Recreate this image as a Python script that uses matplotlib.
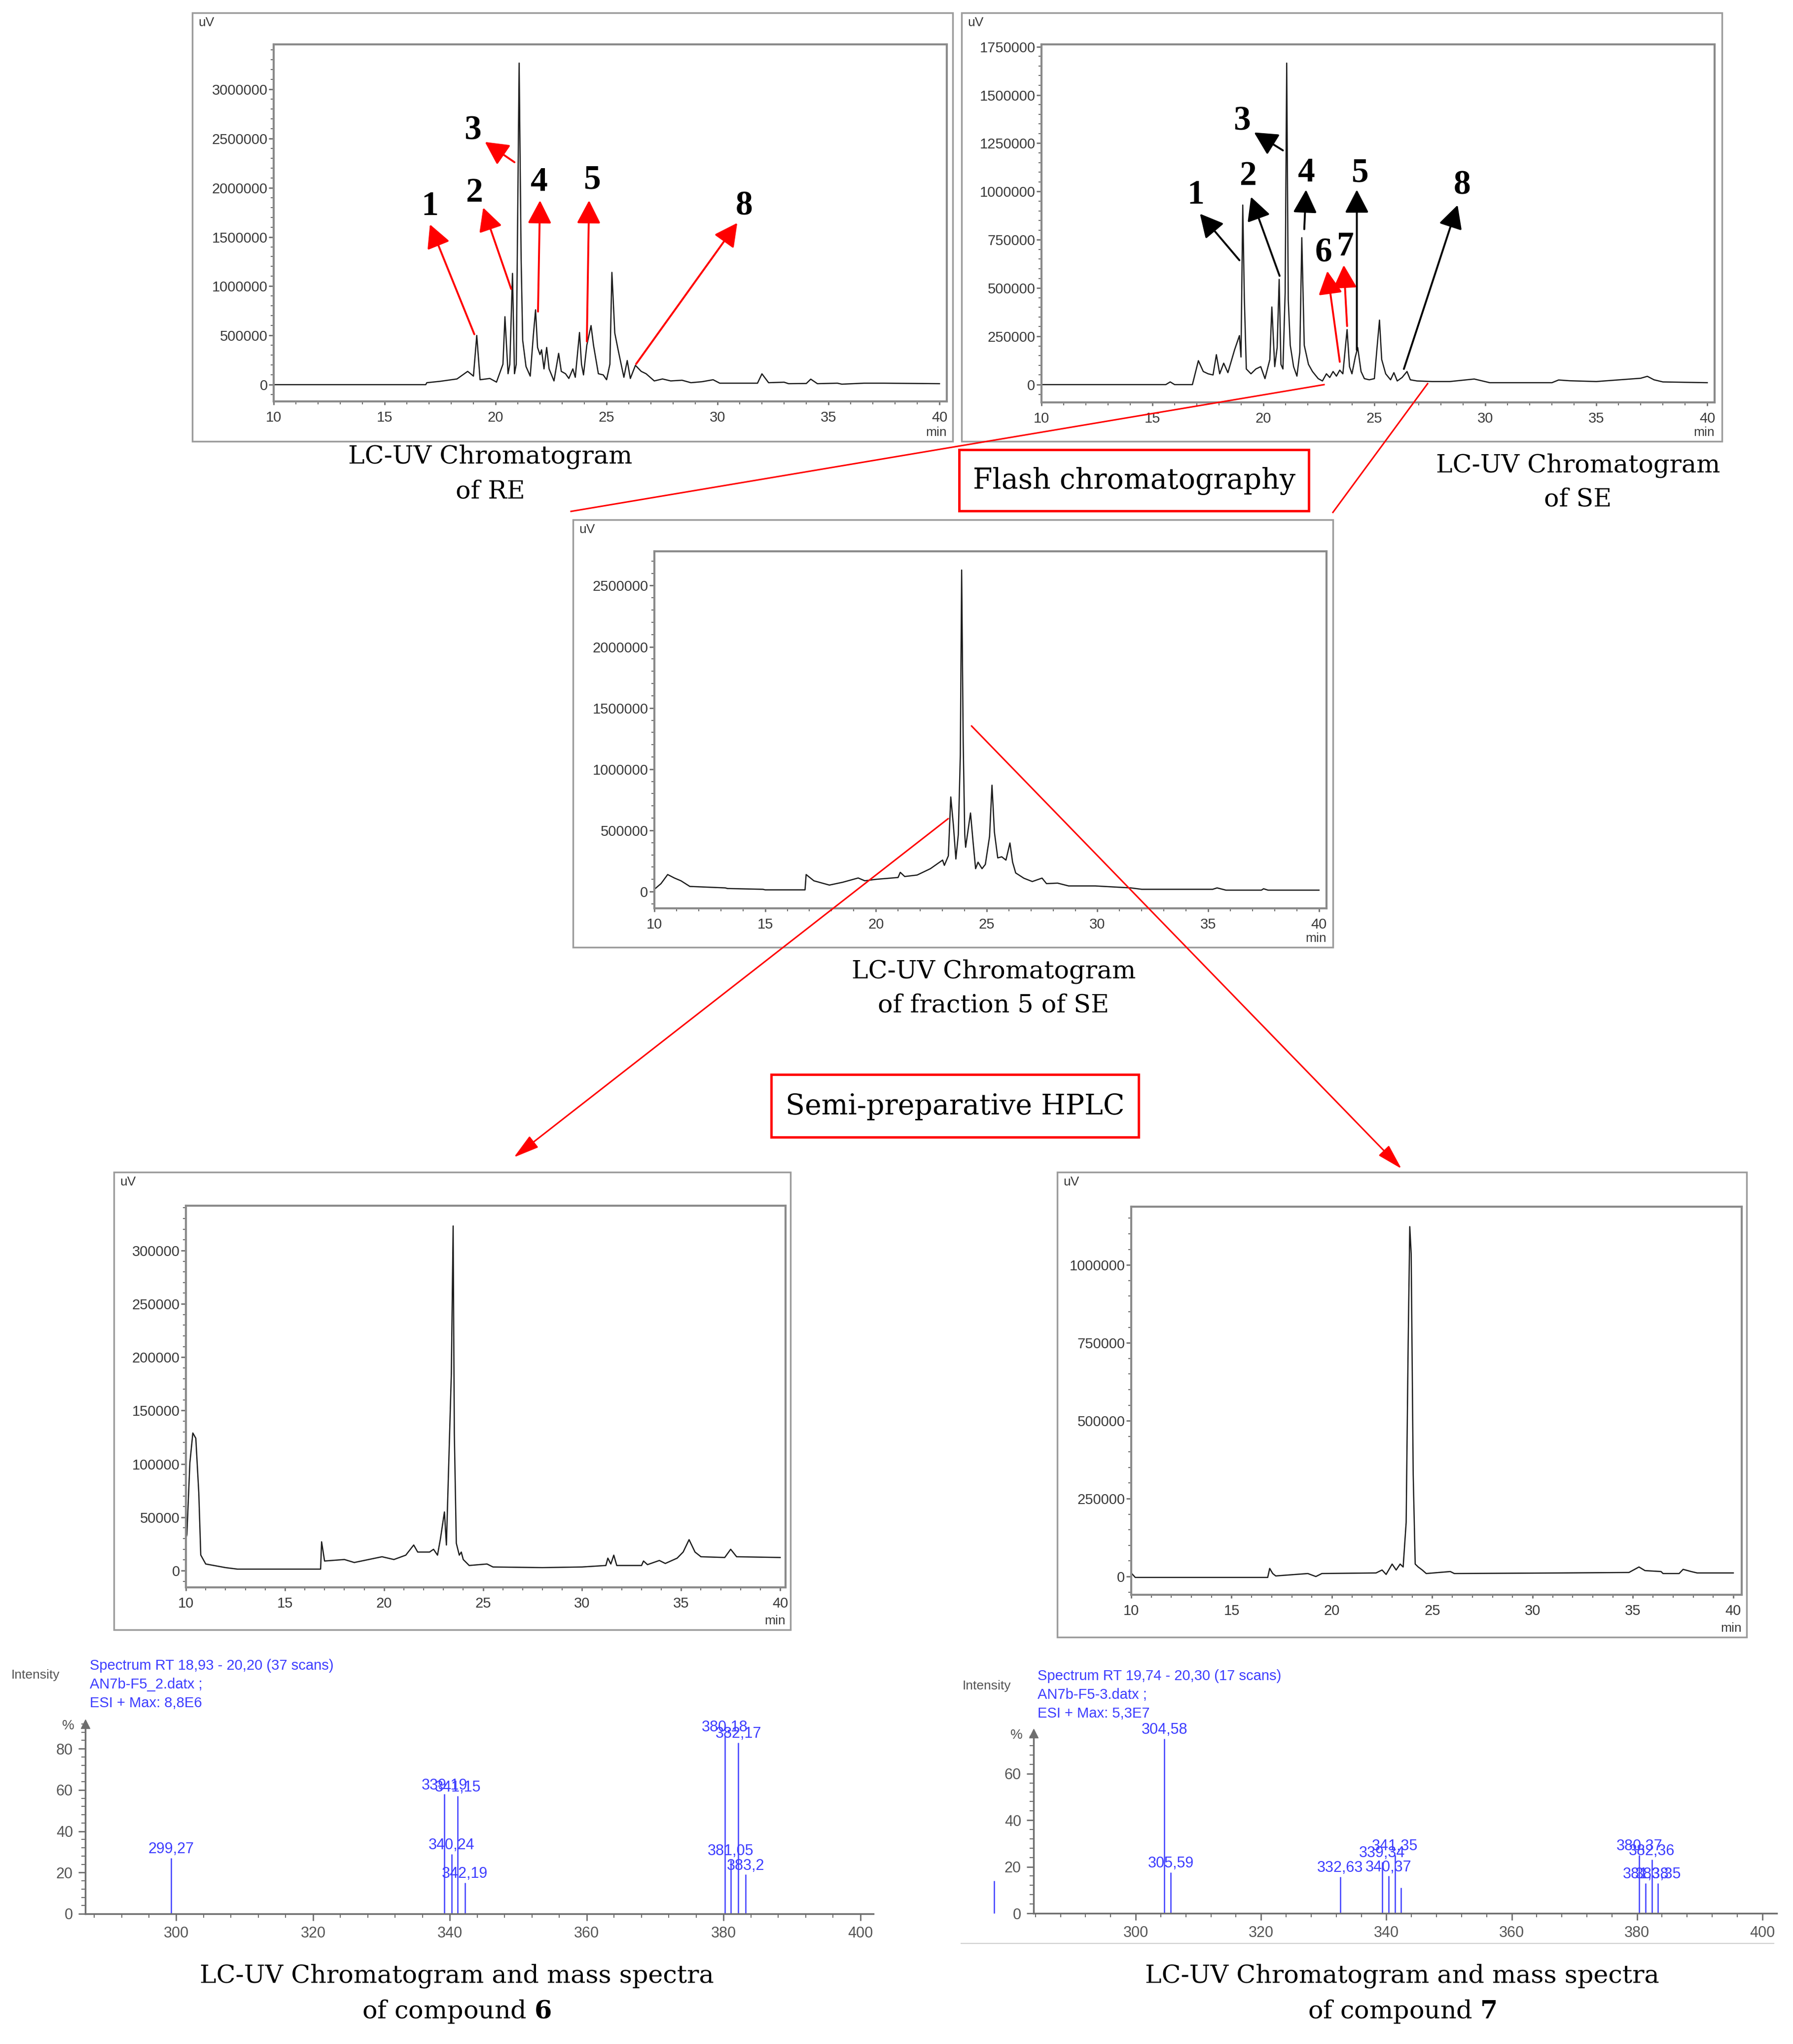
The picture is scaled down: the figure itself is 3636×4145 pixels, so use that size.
import matplotlib
matplotlib.use('Agg')
import matplotlib.pyplot as plt
from matplotlib.patches import Rectangle, FancyArrowPatch
from matplotlib.ticker import MultipleLocator, AutoMinorLocator, FuncFormatter

plt.rcParams['font.family'] = ['Liberation Sans', 'DejaVu Sans']
plt.rcParams['mathtext.fontset'] = 'dejavuserif'

# ---------------- data ----------------
# LC-UV chromatogram of RE (time, uV)
re_t = [10.0, 16.85, 16.9, 17.5, 18.26, 18.74, 19.0, 19.15, 19.3, 19.74, 20.04, 20.33, 20.42, 20.56,
        20.64, 20.76, 20.85, 20.93, 21.06, 21.15, 21.22, 21.37, 21.56, 21.7, 21.8, 21.89, 22.0, 22.07,
        22.18, 22.3, 22.41, 22.63, 22.84, 22.96, 23.15, 23.3, 23.48, 23.59, 23.78, 23.87, 23.96, 24.11,
        24.3, 24.41, 24.63, 24.85, 25.0, 25.15, 25.24, 25.37, 25.52, 25.7, 25.78, 25.93, 26.07, 26.3,
        26.56, 26.78, 27.15, 27.52, 27.89, 28.4, 28.8, 29.3, 29.8, 30.1, 31.8, 32.0, 32.3, 33.0, 33.2,
        34.0, 34.2, 34.5, 35.4, 35.6, 36.6, 37.5, 40.0]
re_y = [0, 0, 20000, 34000, 58000, 135000, 87000, 500000, 50000, 63000, 26000, 208000, 690000, 111000,
        208000, 1130000, 111000, 208000, 3266000, 1276000, 451000, 184000, 87000, 500000, 760000, 378000,
        305000, 354000, 160000, 378000, 160000, 38000, 318000, 135000, 111000, 63000, 160000, 75000,
        530000, 208000, 99000, 402000, 600000, 402000, 111000, 99000, 50000, 208000, 1140000, 524000,
        354000, 160000, 75000, 245000, 63000, 196000, 135000, 111000, 38000, 58000, 38000, 45000, 20000,
        30000, 50000, 15000, 15000, 110000, 20000, 25000, 10000, 12000, 56000, 10000, 15000, 5000, 15000,
        15000, 10000]

# LC-UV chromatogram of SE
se_t = [10.0, 15.6, 15.8, 16.0, 16.8, 17.07, 17.29, 17.51, 17.73, 17.88, 18.03, 18.21, 18.4, 18.7, 18.92,
        18.99, 19.07, 19.14, 19.23, 19.44, 19.66, 19.88, 20.07, 20.29, 20.38, 20.51, 20.62, 20.71, 20.79,
        20.88, 20.98, 21.05, 21.12, 21.21, 21.36, 21.51, 21.64, 21.73, 21.84, 22.03, 22.21, 22.47, 22.66,
        22.84, 22.99, 23.14, 23.29, 23.44, 23.58, 23.77, 23.88, 23.99, 24.14, 24.25, 24.4, 24.55, 24.77,
        25.0, 25.12, 25.23, 25.33, 25.51, 25.73, 25.88, 26.03, 26.25, 26.47, 26.62, 26.92, 27.6, 28.4,
        29.5, 30.2, 33.0, 33.3, 33.8, 35.0, 37.0, 37.3, 37.6, 38.0, 40.0]
se_y = [0, 0, 14000, 0, 0, 124000, 68000, 56000, 50000, 155000, 56000, 111000, 62000, 180000, 254000,
        143000, 930000, 452000, 81000, 56000, 81000, 93000, 31000, 130000, 402000, 93000, 192000, 545000,
        105000, 81000, 477000, 1665000, 440000, 204000, 93000, 44000, 167000, 761000, 204000, 105000, 68000,
        31000, 19000, 56000, 37000, 68000, 44000, 75000, 56000, 285000, 93000, 56000, 143000, 192000, 68000,
        31000, 25000, 31000, 192000, 334000, 130000, 56000, 25000, 62000, 19000, 37000, 68000, 25000, 19000,
        16000, 16000, 29000, 10000, 10000, 24000, 20000, 16000, 33000, 43000, 25000, 14000, 10000]

# LC-UV chromatogram of fraction 5 of SE
f5_t = [10.0, 10.3, 10.6, 10.9, 11.2, 11.6, 13.2, 13.3, 14.9, 15.0, 16.8, 16.85, 17.2, 17.9, 18.5, 19.2,
        19.5, 20.0, 21.0, 21.1, 21.3, 21.86, 22.46, 23.01, 23.09, 23.27, 23.38, 23.5, 23.61, 23.72, 23.81,
        23.87, 23.94, 24.01, 24.05, 24.16, 24.27, 24.39, 24.5, 24.61, 24.79, 24.94, 25.13, 25.24, 25.35,
        25.5, 25.68, 25.87, 26.05, 26.17, 26.31, 26.68, 27.06, 27.5, 27.7, 28.2, 28.7, 29.9, 31.5, 32.0,
        35.2, 35.4, 35.8, 37.4, 37.5, 37.7, 40.0]
f5_y = [18500, 65000, 139000, 111000, 88000, 42000, 30000, 25000, 18500, 14000, 14000, 139000, 88000,
        53000, 76000, 111000, 88000, 100000, 115000, 157000, 123000, 135000, 187000, 257000, 214000,
        292000, 773000, 537000, 266000, 467000, 1114000, 2627000, 1219000, 467000, 362000, 502000, 642000,
        397000, 187000, 240000, 187000, 222000, 450000, 869000, 485000, 275000, 284000, 257000, 397000,
        240000, 152000, 109000, 82000, 110000, 65000, 69000, 46000, 46000, 30000, 18500, 18500, 30000,
        11600, 11600, 23000, 11600, 11600]

# LC-UV chromatogram of compound 6
c6_t = [10.0, 10.05, 10.2, 10.35, 10.5, 10.65, 10.75, 11.0, 12.0, 12.6, 16.8, 16.85, 17.0, 18.0, 18.5,
        19.9, 20.5, 21.1, 21.5, 21.7, 22.3, 22.5, 22.7, 22.85, 23.05, 23.15, 23.4, 23.49, 23.55, 23.65,
        23.8, 23.9, 24.0, 24.3, 25.2, 25.5, 28.0, 30.0, 31.2, 31.3, 31.45, 31.6, 31.75, 33.0, 33.1, 33.3,
        33.9, 34.2, 34.8, 35.1, 35.4, 35.7, 36.0, 37.2, 37.5, 37.8, 40.0]
c6_y = [30000, 34000, 101000, 129000, 124000, 73000, 14600, 6200, 2800, 1400, 1400, 27000, 9000, 10400,
        7600, 13000, 10400, 14500, 24000, 17400, 17400, 20000, 14500, 30000, 55000, 24000, 185000, 323000,
        129000, 25700, 14500, 17400, 10400, 4800, 6200, 3400, 2800, 3400, 4800, 11700, 6200, 14500, 4800,
        4800, 9000, 5600, 9500, 6700, 11700, 17400, 29000, 17400, 13000, 12300, 20000, 13000, 12300]

# LC-UV chromatogram of compound 7
c7_t = [10.0, 10.2, 16.8, 16.9, 17.05, 17.2, 18.8, 19.2, 19.5, 22.2, 22.5, 22.7, 23.0, 23.2, 23.4, 23.55,
        23.7, 23.8, 23.88, 23.95, 24.05, 24.15, 24.3, 24.5, 24.7, 25.9, 26.1, 31.5, 34.8, 35.3, 35.6, 36.4,
        36.5, 37.3, 37.5, 37.9, 38.2, 40.0]
c7_y = [11500, -2900, -2900, 26000, 9600, 1900, 9600, 0, 9600, 11500, 21000, 6700, 40000, 21000, 40000,
        30600, 174000, 749000, 1123000, 1036000, 328000, 40000, 30600, 21000, 9600, 16000, 9600, 11500,
        13000, 30600, 19000, 16000, 9600, 9600, 23000, 16000, 11500, 11500]

re_yticks = [0, 500000, 1000000, 1500000, 2000000, 2500000, 3000000]
se_yticks = [0, 250000, 500000, 750000, 1000000, 1250000, 1500000, 1750000]
f5_yticks = [0, 500000, 1000000, 1500000, 2000000, 2500000]
c6_yticks = [0, 50000, 100000, 150000, 200000, 250000, 300000]
c7_yticks = [0, 250000, 500000, 750000, 1000000]
rt_ticks = [10, 15, 20, 25, 30, 35, 40]

# mass spectra (m/z, relative intensity %)
ms6_mz = [299.27, 339.19, 340.24, 341.15, 342.19, 380.18, 381.05, 382.17, 383.2]
ms6_int = [27, 58, 29, 57, 15, 86, 26, 83, 19]
ms6_lab = ["299,27", "339,19", "340,24", "341,15", "342,19", "380,18", "381,05", "382,17", "383,2"]

ms7_mz = [277.4, 304.58, 305.59, 332.63, 339.34, 340.37, 341.35, 342.37, 380.37, 381.38, 382.36, 383.35]
ms7_int = [14, 75, 17.6, 15.7, 22, 16, 25, 11, 25, 13, 23, 13]
ms7_lab = ["", "304,58", "305,59", "332,63", "339,34", "340,37", "341,35", "", "380,37", "381,38",
           "382,36", "383,35"]
mz_ticks = [300, 320, 340, 360, 380, 400]
ms6_yticks = [0, 20, 40, 60, 80]
ms7_yticks = [0, 20, 40, 60]

# ---------------- figure ----------------
W, H, DPI = 3637, 4145, 100
fig = plt.figure(figsize=(W / DPI, H / DPI), dpi=DPI)
fig.patch.set_facecolor('white')


def rect(x0, y0, x1, y1):
    return [x0 / W, 1 - y1 / H, (x1 - x0) / W, (y1 - y0) / H]


ov = fig.add_axes([0, 0, 1, 1], zorder=20)
ov.set_xlim(0, W)
ov.set_ylim(H, 0)
ov.axis('off')
ov.patch.set_visible(False)

FRAME = '#9c9c9c'
SPINE = '#8a8a8a'
TICKLAB = '#3a3a3a'
RED = '#ff0000'
BLUE = '#3d3dff'
SERIF = 'DejaVu Serif'


def chrom(frame, axpx, xlim, ylim, t, y, yticks):
    fx0, fy0, fx1, fy1 = frame
    ov.add_patch(Rectangle((fx0, fy0), fx1 - fx0, fy1 - fy0, fill=False, ec=FRAME, lw=2.5))
    ax = fig.add_axes(rect(*axpx))
    ax.plot(t, y, color='#1c1c1c', lw=1.8)
    ax.set_xlim(*xlim)
    ax.set_ylim(*ylim)
    ax.set_xticks(rt_ticks)
    ax.xaxis.set_minor_locator(MultipleLocator(1))
    ax.set_yticks(yticks)
    ax.yaxis.set_minor_locator(AutoMinorLocator(5))
    ax.yaxis.set_major_formatter(FuncFormatter(lambda v, p: f"{int(round(v))}"))
    ax.tick_params(which='both', color='#6e6e6e', labelcolor=TICKLAB, labelsize=21)
    ax.tick_params(axis='y', which='major', length=7, width=2, pad=2)
    ax.tick_params(axis='x', which='major', length=5, width=2, pad=9)
    ax.tick_params(which='minor', length=4, width=1.5)
    for s in ax.spines.values():
        s.set_color(SPINE)
        s.set_linewidth(3)
    ov.text(fx0 + 12, fy0 + 20, 'uV', fontsize=19, color=TICKLAB, ha='left', va='center')
    ov.text(axpx[2], fy1 - 18, 'min', fontsize=19, color=TICKLAB, ha='right', va='center')
    return ax


def peak_arrows(ax, items):
    for lab, tail, tip, lpos, col in items:
        ax.annotate('', xy=tip, xytext=tail, annotation_clip=False,
                    arrowprops=dict(arrowstyle='-|>,head_length=2.9,head_width=1.5',
                                    mutation_scale=10, color=col, lw=2.8, shrinkA=0, shrinkB=0))
        ax.text(lpos[0], lpos[1], lab, family='Liberation Serif', fontweight='bold', fontsize=50,
                color='black', ha='center', va='center', clip_on=False)


# Panel RE
axA = chrom((390, 26, 1932, 895), (555, 90, 1920, 814), (10, 40.33), (-170000, 3456000),
            re_t, re_y, re_yticks)
peak_arrows(axA, [
    ('1', (19.04, 512000), (17.04, 1628000), (17.04, 1810000), RED),
    ('2', (20.70, 972000), (19.44, 1798000), (19.04, 1944000), RED),
    ('3', (20.85, 2259000), (19.52, 2465000), (18.96, 2575000), RED),
    ('4', (21.91, 742000), (22.0, 1871000), (21.96, 2053000), RED),
    ('5', (24.11, 439000), (24.21, 1871000), (24.33, 2077000), RED),
    ('8', (26.33, 210000), (30.89, 1643000), (31.2, 1813000), RED),
])

# Panel SE
axB = chrom((1950, 26, 3492, 895), (2112, 90, 3477, 816), (10, 40.33), (-92000, 1762000),
            se_t, se_y, se_yticks)
peak_arrows(axB, [
    ('1', (18.92, 644000), (17.14, 885000), (16.96, 980000), 'black'),
    ('2', (20.73, 563000), (19.44, 972000), (19.29, 1077000), 'black'),
    ('3', (20.88, 1213000), (19.58, 1306000), (19.03, 1362000), 'black'),
    ('4', (21.84, 805000), (21.92, 1009000), (21.95, 1095000), 'black'),
    ('5', (24.21, 180000), (24.21, 1009000), (24.33, 1095000), 'black'),
    ('6', (23.44, 118000), (22.88, 588000), (22.7, 681000), RED),
    ('7', (23.77, 303000), (23.62, 619000), (23.7, 712000), RED),
    ('8', (26.33, 81000), (28.75, 930000), (28.96, 1031000), 'black'),
])

# Panel fraction 5
axC = chrom((1162, 1054, 2703, 1921), (1327, 1118, 2690, 1842), (10, 40.34), (-137000, 2780000),
            f5_t, f5_y, f5_yticks)

# compound 6 / 7 chromatograms
axD = chrom((231, 2377, 1603, 3305), (377, 2445, 1593, 3219), (10, 40.27), (-15700, 342000),
            c6_t, c6_y, c6_yticks)
axE = chrom((2144, 2377, 3542, 3320), (2294, 2447, 3532, 3234), (10, 40.42), (-58500, 1187000),
            c7_t, c7_y, c7_yticks)


def ms(axpx, xlim, ytop, mz, inten, labels, yticks, head):
    ax = fig.add_axes(rect(*axpx))
    ax.vlines(mz, 0, inten, colors=BLUE, lw=1.8, clip_on=False)
    ax.set_xlim(*xlim)
    ax.set_ylim(0, ytop)
    for s in ('top', 'right'):
        ax.spines[s].set_visible(False)
    for s in ('left', 'bottom'):
        ax.spines[s].set_color('#6e6e6e')
        ax.spines[s].set_linewidth(2.5)
    ax.set_xticks(mz_ticks)
    ax.xaxis.set_minor_locator(MultipleLocator(4))
    ax.set_yticks(yticks)
    ax.yaxis.set_minor_locator(AutoMinorLocator(5))
    ax.tick_params(which='both', color='#6e6e6e', labelcolor='#555555', labelsize=22)
    ax.tick_params(which='major', length=10, width=2, pad=8)
    ax.tick_params(which='minor', length=6, width=1.5)
    ax.patch.set_visible(False)
    for m, i, s in zip(mz, inten, labels):
        if s:
            ax.annotate(s, xy=(m, i), xytext=(0, 2), textcoords='offset points', ha='center',
                        va='bottom', color=BLUE, fontsize=22, annotation_clip=False)
    ax.plot([xlim[0]], [ytop], marker='^', ms=13, color='#6e6e6e', clip_on=False)
    x0, y0 = axpx[0], axpx[1]
    ov.text(x0 - 35, y0 + 4, '%', fontsize=20, color='#555555', ha='center', va='center')
    hx, hy, lines, ix, iy = head
    ov.text(ix, iy, 'Intensity', fontsize=19, color='#555555', ha='left', va='center')
    for k, ln in enumerate(lines):
        ov.text(hx, hy + k * 38, ln, fontsize=21, color=BLUE, ha='left', va='center')
    return ax


ms(( 173, 3496, 1771, 3881), (286.7, 401.9), 92, ms6_mz, ms6_int, ms6_lab, ms6_yticks,
   (182, 3378, ["Spectrum RT 18,93 - 20,20 (37 scans)", "AN7b-F5_2.datx ;", "ESI + Max: 8,8E6"],
    23, 3397))
ms((2096, 3515, 3603, 3880), (283.7, 402.3), 77.3, ms7_mz, ms7_int, ms7_lab, ms7_yticks,
   (2104, 3399, ["Spectrum RT 19,74 - 20,30 (17 scans)", "AN7b-F5-3.datx ;", "ESI + Max: 5,3E7"],
    1952, 3419))
ov.plot([1949, 3597], [3941, 3941], color='#d0d0d0', lw=1.5)

# captions
cap = dict(family=SERIF, fontsize=36.5, ha='center', va='center', color='black')
ov.text(994, 926, 'LC-UV Chromatogram', **cap)
ov.text(994, 997, 'of RE', **cap)
ov.text(3200, 944, 'LC-UV Chromatogram', **cap)
ov.text(3200, 1013, 'of SE', **cap)
ov.text(2015, 1970, 'LC-UV Chromatogram', **cap)
ov.text(2015, 2039, 'of fraction 5 of SE', **cap)
ov.text(926, 4007, 'LC-UV Chromatogram and mass spectra', **cap)
ov.text(926, 4079, r'of compound $\mathbf{6}$', **cap)
ov.text(2843, 4007, 'LC-UV Chromatogram and mass spectra', **cap)
ov.text(2843, 4079, r'of compound $\mathbf{7}$', **cap)

# boxed step labels
ov.add_patch(Rectangle((1945, 912), 2654 - 1945, 1036 - 912, fill=False, ec=RED, lw=3.5))
ov.text(2300, 975, 'Flash chromatography', family=SERIF, fontsize=41, ha='center', va='center')
ov.add_patch(Rectangle((1564, 2179), 2309 - 1564, 2306 - 2179, fill=False, ec=RED, lw=3.5))
ov.text(1937, 2244, 'Semi-preparative HPLC', family=SERIF, fontsize=41, ha='center', va='center')

# connector lines
ov.plot([2685, 1158], [780, 1037], color=RED, lw=2.2)
ov.plot([2895, 2703], [778, 1039], color=RED, lw=2.2)
for (a, b) in [((1923, 1660), (1042, 2347)), ((1970, 1472), (2842, 2370))]:
    ov.add_patch(FancyArrowPatch(a, b, arrowstyle='-|>,head_length=3.2,head_width=0.9',
                                 mutation_scale=10, color=RED, lw=2.2, shrinkA=0, shrinkB=0))

fig.savefig('out.png', dpi=DPI, facecolor='white')
